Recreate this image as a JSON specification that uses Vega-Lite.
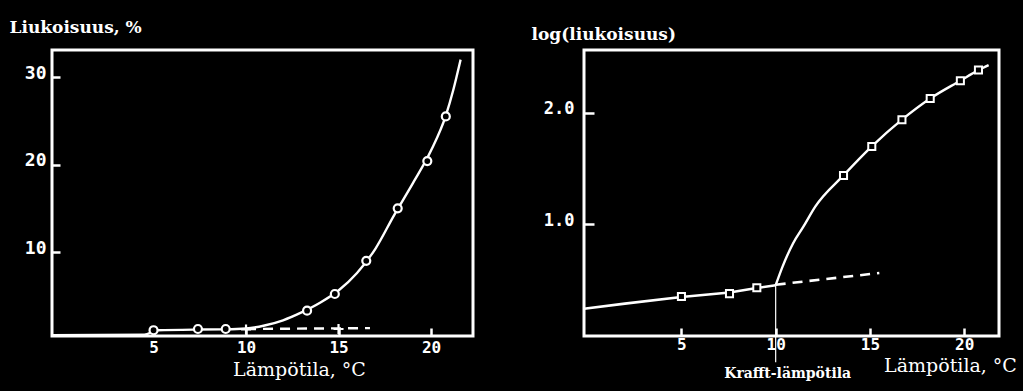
{
  "$schema": "https://vega.github.io/schema/vega-lite/v6.json",
  "background": "black",
  "padding": {"left": 7, "top": 16, "right": 10, "bottom": 13},
  "spacing": 111,
  "bounds": "flush",
  "config": {
    "view": {"stroke": "white", "strokeWidth": 3, "fill": "black"},
    "axis": {
      "domain": false, "grid": false,
      "tickColor": "white", "tickWidth": 2.5, "tickSize": -8,
      "labelColor": "white", "labelFont": "DejaVu Sans Mono", "labelFontWeight": "bold", "labelFontSize": 18,
      "titleColor": "white", "titleFont": "DejaVu Serif"
    }
  },
  "datasets": {
    "left": [
      {"T": -0.49, "v": 0.5, "part": "curve"},
      {"T": 4.5, "v": 0.55, "part": "curve"},
      {"T": 5.2, "v": 1.05, "part": "curve"},
      {"T": 7.4, "v": 1.14, "part": "curve"},
      {"T": 8.9, "v": 1.16, "part": "curve"},
      {"T": 10, "v": 1.25, "part": "curve"},
      {"T": 11, "v": 1.6, "part": "curve"},
      {"T": 12, "v": 2.2, "part": "curve"},
      {"T": 13, "v": 3.1, "part": "curve"},
      {"T": 14, "v": 4.2, "part": "curve"},
      {"T": 15, "v": 5.6, "part": "curve"},
      {"T": 16, "v": 7.6, "part": "curve"},
      {"T": 17, "v": 10.4, "part": "curve"},
      {"T": 18, "v": 14.2, "part": "curve"},
      {"T": 19, "v": 17.8, "part": "curve"},
      {"T": 20, "v": 21.6, "part": "curve"},
      {"T": 20.8, "v": 25.6, "part": "curve"},
      {"T": 21.2, "v": 28.5, "part": "curve"},
      {"T": 21.6, "v": 32.0, "part": "curve"},
      {"T": 10, "v": 1.2, "part": "dash"},
      {"T": 16.7, "v": 1.3, "part": "dash"},
      {"T": 5, "v": 1.06, "part": "obs"},
      {"T": 7.4, "v": 1.2, "part": "obs"},
      {"T": 8.9, "v": 1.2, "part": "obs"},
      {"T": 13.3, "v": 3.3, "part": "obs"},
      {"T": 14.8, "v": 5.2, "part": "obs"},
      {"T": 16.5, "v": 9.0, "part": "obs"},
      {"T": 18.2, "v": 15.0, "part": "obs"},
      {"T": 19.8, "v": 20.4, "part": "obs"},
      {"T": 20.8, "v": 25.5, "part": "obs"},
      {"T": 10, "v": 1.15, "part": "plus"},
      {"T": 15, "v": 1.2, "part": "plus"}
    ],
    "right": [
      {"T": -0.17, "v": 0.245, "part": "low"},
      {"T": 2, "v": 0.29, "part": "low"},
      {"T": 5, "v": 0.35, "part": "low"},
      {"T": 7.55, "v": 0.39, "part": "low"},
      {"T": 9, "v": 0.43, "part": "low"},
      {"T": 10, "v": 0.455, "part": "low"},
      {"T": 10, "v": 0.455, "part": "high"},
      {"T": 10.36, "v": 0.62, "part": "high"},
      {"T": 10.92, "v": 0.83, "part": "high"},
      {"T": 11.47, "v": 0.98, "part": "high"},
      {"T": 12.1, "v": 1.16, "part": "high"},
      {"T": 13.6, "v": 1.44, "part": "high"},
      {"T": 15.1, "v": 1.7, "part": "high"},
      {"T": 16.7, "v": 1.94, "part": "high"},
      {"T": 18.2, "v": 2.13, "part": "high"},
      {"T": 19.8, "v": 2.29, "part": "high"},
      {"T": 20.76, "v": 2.385, "part": "high"},
      {"T": 21.3, "v": 2.43, "part": "high"},
      {"T": 10, "v": 0.46, "part": "dash"},
      {"T": 15.5, "v": 0.565, "part": "dash"},
      {"T": 5, "v": 0.355, "part": "obs"},
      {"T": 7.55, "v": 0.38, "part": "obs"},
      {"T": 9, "v": 0.433, "part": "obs"},
      {"T": 13.6, "v": 1.44, "part": "obs"},
      {"T": 15.1, "v": 1.7, "part": "obs"},
      {"T": 16.7, "v": 1.94, "part": "obs"},
      {"T": 18.2, "v": 2.13, "part": "obs"},
      {"T": 19.8, "v": 2.29, "part": "obs"},
      {"T": 20.76, "v": 2.385, "part": "obs"},
      {"T": 10, "v": 0.455, "part": "krafft", "label": "Krafft-lämpötila"}
    ]
  },
  "hconcat": [
    {
      "width": 421,
      "height": 286,
      "data": {"name": "left"},
      "encoding": {
        "x": {
          "field": "T", "type": "quantitative",
          "scale": {"domain": [-0.49, 22.27], "nice": false, "zero": false},
          "axis": {"values": [5, 10, 15, 20], "labelPadding": 11, "labelFontSize": 16, "title": "Lämpötila, °C", "titleFontSize": 19, "titleFontWeight": "normal", "titleX": 247, "titleY": 33, "titleBaseline": "middle", "titleAlign": "center"}
        },
        "y": {
          "field": "v", "type": "quantitative",
          "scale": {"domain": [0.4, 33.1], "nice": false, "zero": false},
          "axis": {"values": [10, 20, 30], "labelPadding": 14, "labelOffset": -4, "title": "Liukoisuus, %", "titleAngle": 0, "titleAlign": "left", "titleBaseline": "middle", "titleX": -43, "titleY": -23, "titleFontSize": 17, "titleFontWeight": "bold"}
        }
      },
      "layer": [
        {"transform": [{"filter": "datum.part === 'curve'"}], "mark": {"type": "line", "color": "white", "strokeWidth": 2.4, "interpolate": "monotone"}},
        {"transform": [{"filter": "datum.part === 'dash'"}], "mark": {"type": "line", "color": "white", "strokeWidth": 2.4, "strokeDash": [10, 7]}},
        {"transform": [{"filter": "datum.part === 'obs'"}], "mark": {"type": "point", "shape": "circle", "filled": true, "fill": "black", "stroke": "white", "strokeWidth": 2.2, "size": 64, "opacity": 1}},
        {"transform": [{"filter": "datum.part === 'plus'"}], "mark": {"type": "point", "shape": "M-1,0H1M0,-1V1", "filled": false, "stroke": "white", "strokeWidth": 2.2, "size": 100, "opacity": 1}}
      ]
    },
    {
      "width": 415,
      "height": 286,
      "data": {"name": "right"},
      "encoding": {
        "x": {
          "field": "T", "type": "quantitative",
          "scale": {"domain": [-0.17, 21.85], "nice": false, "zero": false},
          "axis": {"values": [5, 10, 15, 20], "labelPadding": 8, "labelFontSize": 16, "title": "Lämpötila, °C", "titleFontSize": 19, "titleFontWeight": "normal", "titleX": 366, "titleY": 29, "titleBaseline": "middle", "titleAlign": "center"}
        },
        "y": {
          "field": "v", "type": "quantitative",
          "scale": {"domain": [0, 2.565], "nice": false, "zero": false},
          "axis": {"values": [1, 2], "format": ".1f", "labelPadding": 20, "labelOffset": -4, "labelFontSize": 17, "tickSize": -10, "title": "log(liukoisuus)", "titleAngle": 0, "titleAlign": "left", "titleBaseline": "middle", "titleX": -53, "titleY": -16, "titleFontSize": 17, "titleFontWeight": "bold"}
        }
      },
      "layer": [
        {"transform": [{"filter": "datum.part === 'low'"}], "mark": {"type": "line", "color": "white", "strokeWidth": 2.6}},
        {"transform": [{"filter": "datum.part === 'high'"}], "mark": {"type": "line", "color": "white", "strokeWidth": 2.4, "interpolate": "monotone"}},
        {"transform": [{"filter": "datum.part === 'dash'"}], "mark": {"type": "line", "color": "white", "strokeWidth": 2.6, "strokeDash": [10, 7]}},
        {"transform": [{"filter": "datum.part === 'krafft'"}], "mark": {"type": "rule", "color": "white", "strokeWidth": 1.2}, "encoding": {"y2": {"datum": -0.235}}},
        {"transform": [{"filter": "datum.part === 'krafft'"}], "mark": {"type": "text", "color": "white", "font": "DejaVu Serif", "fontWeight": "bold", "fontSize": 14, "align": "center", "baseline": "middle", "dx": 12}, "encoding": {"y": {"datum": -0.34}, "text": {"field": "label"}}},
        {"transform": [{"filter": "datum.part === 'obs'"}], "mark": {"type": "point", "shape": "square", "filled": true, "fill": "black", "stroke": "white", "strokeWidth": 2, "size": 50, "opacity": 1}}
      ]
    }
  ]
}
